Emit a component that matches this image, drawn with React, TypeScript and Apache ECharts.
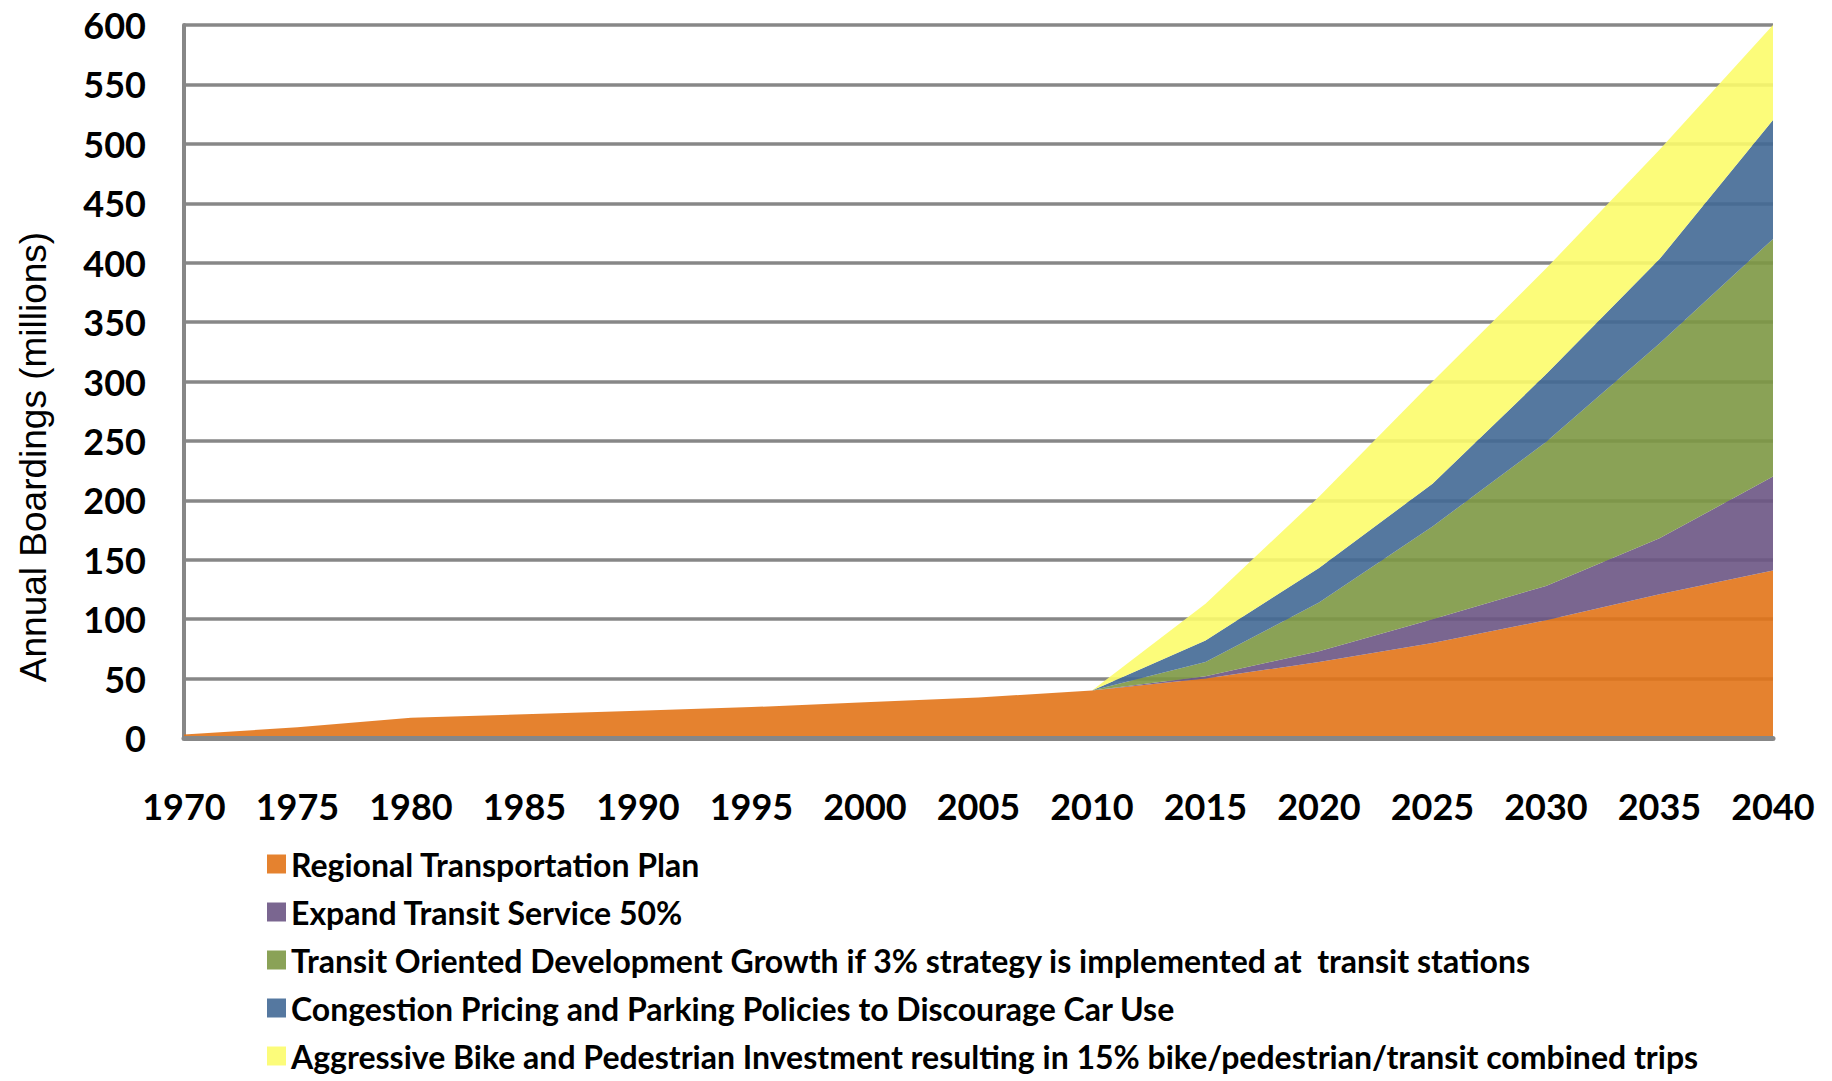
import React, { useEffect, useRef } from "react";
import * as echarts from "echarts";

const years = ["1970", "1975", "1980", "1985", "1990", "1995", "2000", "2005", "2010", "2015", "2020", "2025", "2030", "2035", "2040"];
const regionalPlan = [3, 9, 17, 20, 23, 26, 30, 34, 40, 50, 64, 80, 99, 121, 141];
const expandTransit = [0, 0, 0, 0, 0, 0, 0, 0, 0, 2, 9, 20, 29, 47, 79];
const todGrowth = [0, 0, 0, 0, 0, 0, 0, 0, 0, 12, 41, 78, 121, 164, 200];
const congestionPricing = [0, 0, 0, 0, 0, 0, 0, 0, 0, 18, 29, 36, 57, 71, 100];
const bikePed = [0, 0, 0, 0, 0, 0, 0, 0, 0, 31, 60, 86, 89, 92, 80];

const seriesNames = [
  "Regional Transportation Plan",
  "Expand Transit Service 50%",
  "Transit Oriented Development Growth if 3% strategy is implemented at  transit stations",
  "Congestion Pricing and Parking Policies to Discourage Car Use",
  "Aggressive Bike and Pedestrian Investment resulting in 15% bike/pedestrian/transit combined trips",
];
const seriesValues = [regionalPlan, expandTransit, todGrowth, congestionPricing, bikePed];
const swatchColors = ["#E5822F", "#7A6690", "#8AA257", "#5578A0", "#FCFC7A"];
const areaColors = ["#E27418", "#6B5584", "#7D9844", "#426995", "#FCFC6B"];

const tickFont = "Lato, 'Noto Sans', sans-serif";

export default function App() {
  const ref = useRef<HTMLDivElement>(null);
  useEffect(() => {
    if (!ref.current) return;
    const chart = echarts.init(ref.current, null, { renderer: "svg" });
    chart.setOption({
      animation: false,
      backgroundColor: "#ffffff",
      grid: { left: 184, right: 59, top: 25, bottom: 343, containLabel: false },
      xAxis: {
        type: "category",
        data: years,
        boundaryGap: false,
        z: 3,
        axisLine: { show: true, lineStyle: { color: "#878787", width: 5 } },
        axisTick: { show: false },
        splitLine: { show: false },
        axisLabel: {
          margin: 50,
          interval: 0,
          fontFamily: tickFont,
          fontWeight: "bold",
          fontSize: 36,
          color: "#000",
        },
      },
      yAxis: {
        type: "value",
        min: 0,
        max: 600,
        interval: 50,
        axisLine: { show: true, lineStyle: { color: "#878787", width: 4 } },
        axisTick: { show: false },
        splitLine: { show: true, lineStyle: { color: "#878787", width: 3.5 } },
        axisLabel: {
          margin: 38,
          fontFamily: tickFont,
          fontWeight: "bold",
          fontSize: 36,
          color: "#000",
        },
      },
      legend: {
        orient: "vertical",
        left: 267,
        top: 848,
        padding: 0,
        icon: "rect",
        itemWidth: 19,
        itemHeight: 19,
        itemGap: 16,
        textStyle: {
          fontFamily: tickFont,
          fontWeight: "bold",
          fontSize: 32,
          lineHeight: 32,
          color: "#000",
        },
        data: seriesNames.map((n, i) => ({ name: n, itemStyle: { color: swatchColors[i] } })),
      },
      graphic: [
        {
          type: "text",
          x: 33,
          y: 457,
          rotation: Math.PI / 2,
          style: {
            text: "Annual Boardings (millions)",
            font: "37px 'Liberation Sans', Arial, sans-serif",
            fill: "#000",
            textAlign: "center",
            textVerticalAlign: "middle",
          },
        },
      ],
      series: seriesNames.map((n, i) => ({
        name: n,
        type: "line",
        stack: "total",
        symbol: "none",
        showSymbol: false,
        color: swatchColors[i],
        itemStyle: { color: swatchColors[i] },
        lineStyle: { width: 0 },
        areaStyle: { color: areaColors[i], opacity: 0.9 },
        data: seriesValues[i],
      })),
    });
    return () => chart.dispose();
  }, []);
  return (
    <div
      ref={ref}
      style={{ position: "fixed", left: 0, top: 0, width: 1832, height: 1081, background: "#fff" }}
    />
  );
}
